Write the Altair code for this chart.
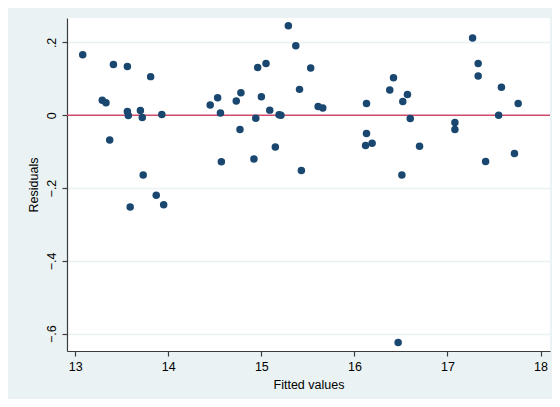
import altair as alt
import pandas as pd

fitted = [13.08, 13.41, 13.56, 13.81, 13.29, 13.33, 13.56, 13.57, 13.70, 13.72,
          13.93, 13.37, 13.73, 13.87, 13.95, 13.59, 14.45, 14.53, 14.56, 14.57,
          15.29, 15.37, 15.05, 14.96, 15.53, 15.41, 14.78, 14.73, 15.00, 15.09,
          14.94, 15.19, 15.21, 15.61, 15.66, 14.77, 15.15, 14.92, 15.43, 17.27,
          17.33, 17.33, 17.58, 17.76, 17.55, 17.08, 17.08, 17.41, 17.72, 16.42,
          16.38, 16.57, 16.52, 16.13, 16.60, 16.13, 16.12, 16.19, 16.70, 16.51,
          16.47]
residuals = [0.166, 0.139, 0.134, 0.106, 0.041, 0.034, 0.010, -0.001, 0.013, -0.006,
             0.002, -0.068, -0.164, -0.220, -0.246, -0.252, 0.028, 0.048, 0.006, -0.128,
             0.246, 0.191, 0.142, 0.131, 0.130, 0.071, 0.062, 0.039, 0.051, 0.014,
             -0.008, 0.001, 0.000, 0.024, 0.020, -0.039, -0.087, -0.120, -0.152, 0.212,
             0.142, 0.108, 0.077, 0.032, 0.000, -0.020, -0.039, -0.127, -0.105, 0.103,
             0.069, 0.057, 0.038, 0.032, -0.009, -0.050, -0.083, -0.077, -0.085, -0.164,
             -0.624]
x_ticks = [13, 14, 15, 16, 17, 18]
y_ticks = [-0.6, -0.4, -0.2, 0, 0.2]
ref_line = [0]

df = pd.DataFrame({"fitted": fitted, "resid": residuals})
ref = pd.DataFrame({"y": ref_line})

xscale = alt.Scale(domain=[12.911, 18.102], nice=False, zero=False)
yscale = alt.Scale(domain=[-0.6475, 0.267], nice=False, zero=False)

label_expr = "datum.value == 0 ? '0' : replace(format(datum.value, '.1f'), '0.', '.')"

points = alt.Chart(df).mark_circle(size=56, color="#1a476f", opacity=1).encode(
    x=alt.X("fitted:Q", scale=xscale,
            axis=alt.Axis(values=x_ticks, title="Fitted values", grid=False,
                          labelPadding=4, titlePadding=6, format="d")),
    y=alt.Y("resid:Q", scale=yscale,
            axis=alt.Axis(values=y_ticks, title="Residuals", grid=True,
                          labelExpr=label_expr, labelAngle=270,
                          labelAlign="center", labelBaseline="bottom",
                          labelPadding=4, titlePadding=5)),
)

zero_rule = alt.Chart(ref).mark_rule(color="#d24a6c", strokeWidth=1.6).encode(
    y=alt.Y("y:Q", scale=yscale)
)

chart = (zero_rule + points).properties(
    width=483, height=333,
    padding={"left": 59, "top": 10, "right": 2, "bottom": 48},
    autosize="none",
    background="#eaf2f3",
).configure_view(
    fill="white", stroke=None
).configure_axis(
    domainColor="#3c3c3c", domainWidth=1.2,
    tickColor="#3c3c3c", tickSize=5, tickWidth=1.2,
    gridColor="#eaf2f3", gridWidth=1.5,
    labelFont="Liberation Sans", labelFontSize=12.5, labelColor="#000",
    titleFont="Liberation Sans", titleFontSize=12.5, titleFontWeight="normal",
    titleColor="#000",
)

chart.save("out.html", embed_options={"renderer": "svg", "actions": False})
